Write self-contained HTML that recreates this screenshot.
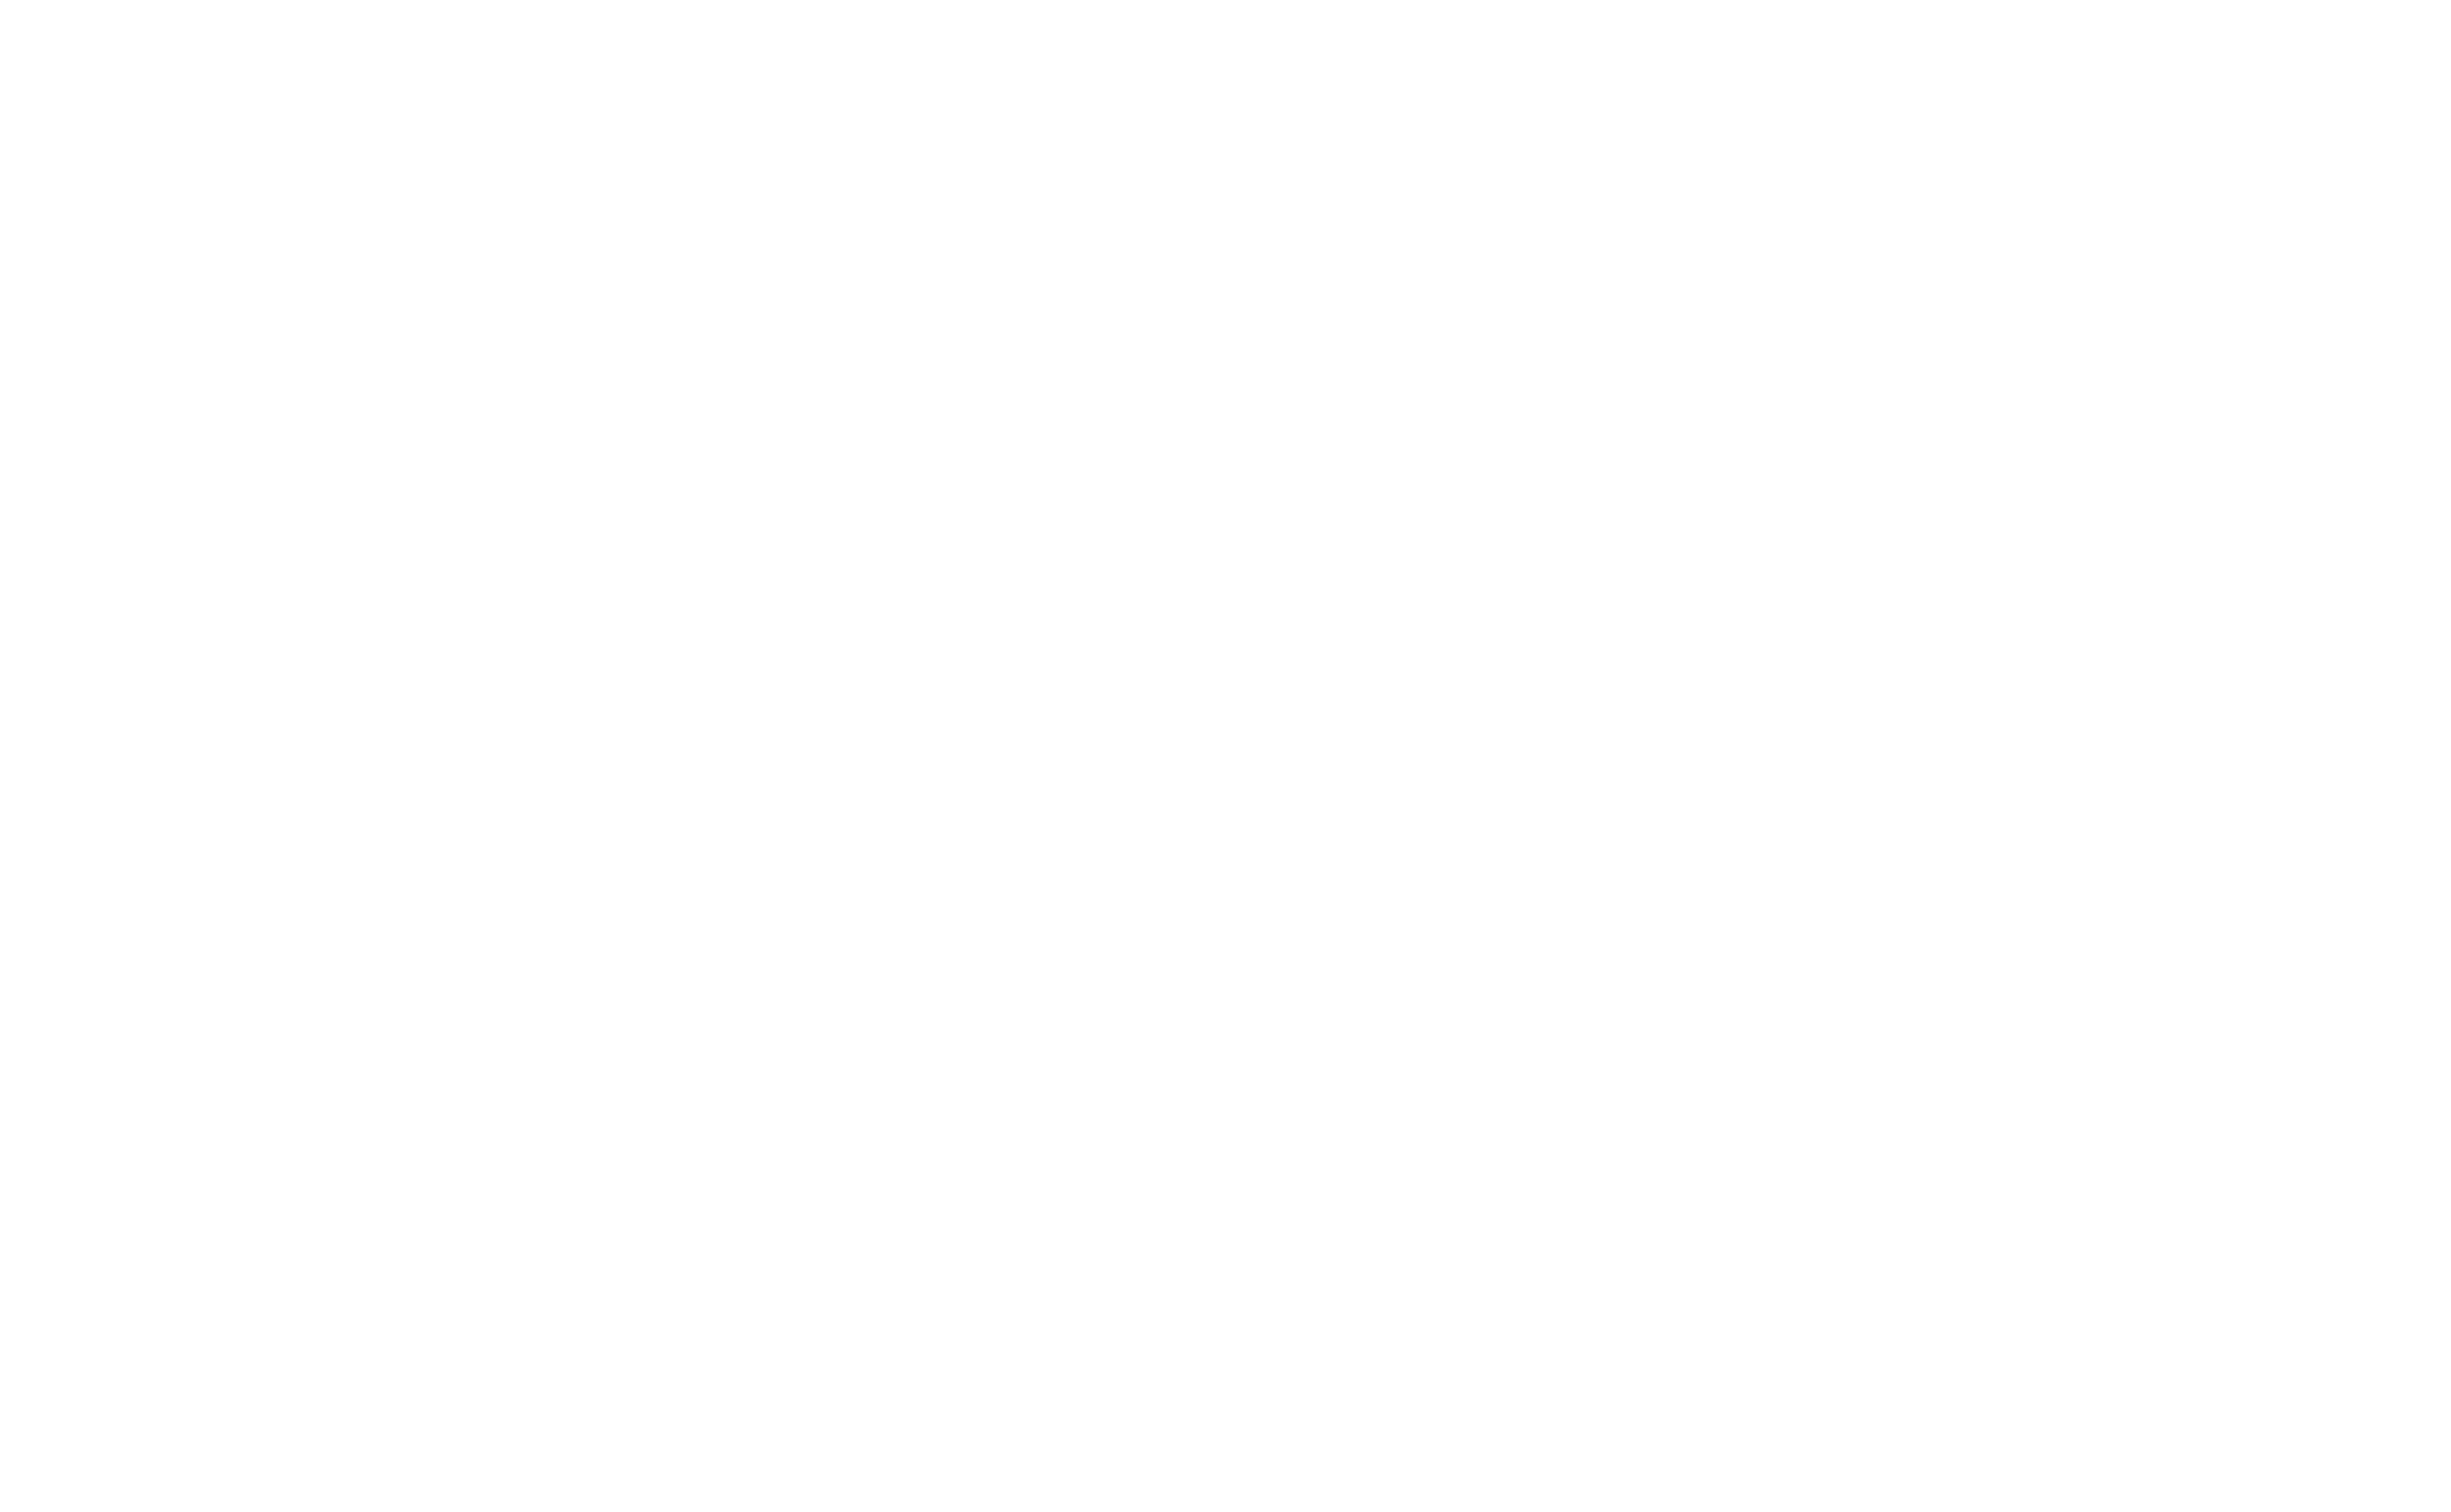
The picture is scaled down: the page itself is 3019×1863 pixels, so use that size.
<!DOCTYPE html>
<html lang="en">
<head>
<meta charset="utf-8">
<title>Blank page</title>
<style>
  html, body {
    margin: 0;
    padding: 0;
    width: 3019px;
    height: 1863px;
    background: #ffffff;
    overflow: hidden;
    font-family: "Liberation Sans", sans-serif;
  }
  main {
    display: block;
    width: 3019px;
    height: 1863px;
    background: #ffffff;
  }
</style>
</head>
<body>
<main></main>
</body>
</html>
